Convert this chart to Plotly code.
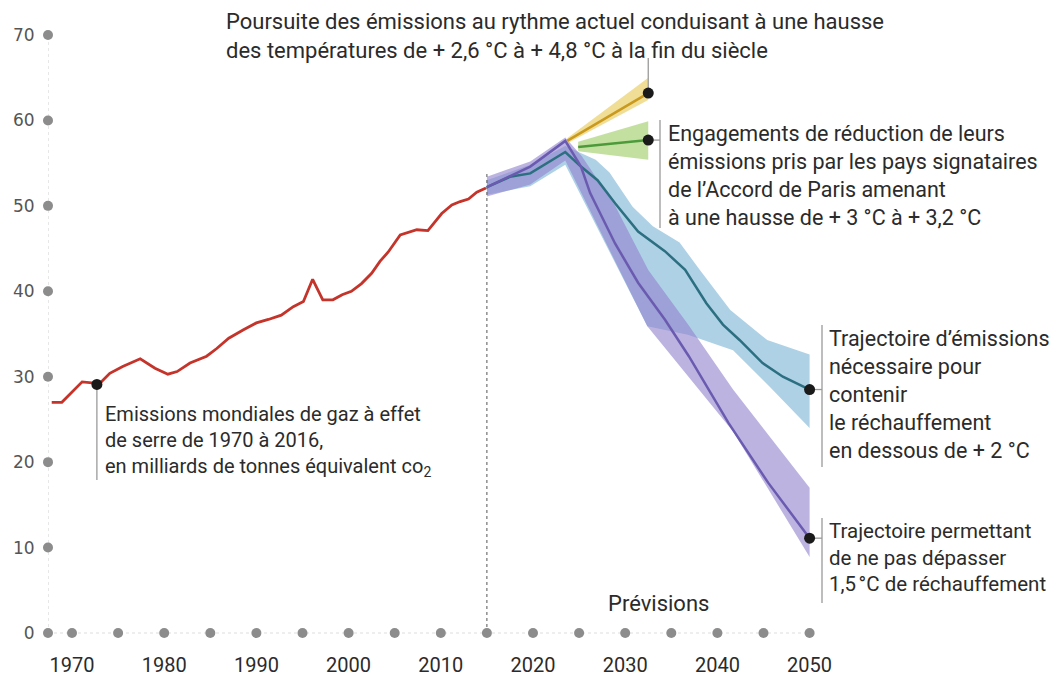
import plotly.graph_objects as go

# --- données ---
# historique (années telles que placées sur l'axe du graphique)
hist_years = [1967.8, 1968.9, 1971.1, 1972.1, 1973.0, 1974.1, 1975.5, 1977.4, 1979.0, 1980.4,
              1981.4, 1982.8, 1984.6, 1985.7, 1987.0, 1988.6, 1990.0, 1991.3, 1992.7, 1994.0,
              1995.1, 1996.1, 1997.2, 1998.3, 1999.3, 2000.3, 2001.4, 2002.5, 2003.4, 2004.3,
              2005.6, 2007.4, 2008.6, 2010.1, 2011.2, 2012.1, 2013.0, 2013.9, 2014.9]
hist_vals = [27.0, 27.0, 29.4, 29.3, 29.2, 30.4, 31.2, 32.1, 31.0, 30.3,
             30.6, 31.6, 32.4, 33.3, 34.5, 35.5, 36.3, 36.7, 37.2, 38.2,
             38.8, 41.4, 39.0, 39.0, 39.6, 40.0, 40.9, 42.1, 43.5, 44.6,
             46.6, 47.2, 47.1, 49.1, 50.1, 50.5, 50.8, 51.6, 52.1]
hist_dot = (1972.7, 29.1)

# trajectoire 2 °C
c2_years = [2015, 2017.5, 2019.7, 2023.5, 2025.2, 2027.0, 2028.9, 2031.4, 2034.3, 2036.5,
            2038.8, 2040.6, 2042.4, 2044.9, 2047.1, 2050]
c2_vals = [52.2, 53.4, 53.8, 56.3, 54.6, 53.0, 50.3, 47.0, 44.7, 42.5,
           38.6, 36.1, 34.3, 31.6, 30.0, 28.5]
c2_up_years = [2015, 2019.7, 2023.5, 2026.8, 2028.3, 2030.8, 2033.0, 2035.9, 2038.1, 2041.4, 2045.4, 2050]
c2_up_vals = [53.0, 54.8, 57.0, 55.4, 53.9, 49.9, 47.6, 45.7, 42.5, 37.8, 34.3, 32.6]
c2_lo_years = [2015, 2019.7, 2023.5, 2032.4, 2036.8, 2041.7, 2045.7, 2050]
c2_lo_vals = [51.3, 52.3, 54.8, 35.9, 34.9, 33.1, 28.8, 24.0]

# trajectoire 1,5 °C
c15_years = [2015, 2019.7, 2023.5, 2025.2, 2026.2, 2028.9, 2031.4, 2034.3, 2036.9, 2041.2, 2045.5, 2050]
c15_vals = [52.2, 54.6, 57.6, 54.6, 51.5, 45.6, 41.0, 36.7, 32.4, 24.6, 17.6, 11.1]
c15_up_years = [2015, 2019.7, 2023.5, 2025.3, 2028.9, 2032.5, 2036.9, 2041.7, 2050]
c15_up_vals = [53.4, 55.2, 58.0, 55.8, 50.0, 42.5, 36.0, 28.5, 17.0]
c15_lo_years = [2015, 2019.7, 2023.5, 2032.4, 2041.7, 2050]
c15_lo_vals = [51.1, 52.5, 55.3, 35.9, 23.6, 8.9]

# rythme actuel
cur_years = [2023.7, 2032.5]
cur_vals = [57.6, 63.2]
cur_up = [57.9, 65.0]
cur_lo = [57.3, 62.4]

# engagements de Paris
ndc_years = [2024.9, 2032.5]
ndc_vals = [56.9, 57.7]
ndc_up = [57.5, 59.9]
ndc_lo = [56.4, 55.4]

y_ticks = [0, 10, 20, 30, 40, 50, 60, 70]
x_dot_years = list(range(1970, 2051, 5))
x_label_years = list(range(1970, 2051, 10))

FONT = "Roboto, sans-serif"

# échelle en pixels de la page (la page a une marge de 8 px)
W, H = 1063, 675
OFF = 8
PX_YEAR = 9.22
PX_UNIT = 8.543
PL, PR, PT, PB = 48, 1063, 8, 645


def px_x(x):
    return 1970 + (x - 72) / PX_YEAR


def px_y(y):
    return (633 - y) / PX_UNIT


fig = go.Figure()


def band(xu, yu, xl, yl, color):
    fig.add_trace(go.Scatter(
        x=list(xu) + list(xl[::-1]),
        y=list(yu) + list(yl[::-1]),
        fill="toself", fillcolor=color, mode="lines",
        line=dict(width=0), hoverinfo="skip", showlegend=False,
    ))


band(c2_up_years, c2_up_vals, c2_lo_years, c2_lo_vals, "rgba(140,190,220,0.7)")
band(c15_up_years, c15_up_vals, c15_lo_years, c15_lo_vals, "rgba(145,128,205,0.6)")
band(cur_years, cur_up, cur_years, cur_lo, "rgba(232,200,80,0.6)")
band(ndc_years, ndc_up, ndc_years, ndc_lo, "rgba(165,208,110,0.65)")

# ligne pointillée 2015
fig.add_trace(go.Scatter(x=[2015, 2015], y=[0, 54], mode="lines",
                         line=dict(color="#555", width=1, dash="dot"),
                         hoverinfo="skip", showlegend=False))

for xs, ys, col, w in [
    (c2_years, c2_vals, "#2b6f80", 2.5),
    (c15_years, c15_vals, "#6b5bb0", 2.5),
    (cur_years, cur_vals, "#c99a1e", 2.5),
    (ndc_years, ndc_vals, "#4c9a3a", 2.5),
    (hist_years, hist_vals, "#c4342a", 2.8),
]:
    fig.add_trace(go.Scatter(x=xs, y=ys, mode="lines", line=dict(color=col, width=w),
                             hoverinfo="skip", showlegend=False))

# axes en pointillés + points de graduation
x0 = px_x(PL)
fig.add_trace(go.Scatter(x=[x0, x0], y=[0, 70], mode="lines",
                         line=dict(color="#cfcfcf", width=1, dash="dot"),
                         hoverinfo="skip", showlegend=False))
fig.add_trace(go.Scatter(x=[x0, 2050], y=[0, 0], mode="lines",
                         line=dict(color="#dddddd", width=1, dash="dot"),
                         hoverinfo="skip", showlegend=False))
fig.add_trace(go.Scatter(x=[x0] * len(y_ticks), y=y_ticks, mode="markers",
                         marker=dict(color="#8c8c8c", size=10), cliponaxis=False,
                         hoverinfo="skip", showlegend=False))
fig.add_trace(go.Scatter(x=x_dot_years, y=[0] * len(x_dot_years), mode="markers",
                         marker=dict(color="#8c8c8c", size=10), cliponaxis=False,
                         hoverinfo="skip", showlegend=False))

# traits de rappel des annotations
LC = "#9a9a9a"
leaders = [
    ([hist_dot[0], hist_dot[0]], [hist_dot[1], px_y(480)]),
    ([cur_years[-1], cur_years[-1]], [cur_vals[-1], px_y(58)]),
    ([ndc_years[-1], px_x(660)], [ndc_vals[-1], ndc_vals[-1]]),
    ([px_x(660), px_x(660)], [px_y(120), px_y(228)]),
    ([c2_years[-1], px_x(822)], [c2_vals[-1], c2_vals[-1]]),
    ([px_x(822), px_x(822)], [px_y(325), px_y(467)]),
    ([c15_years[-1], px_x(822)], [c15_vals[-1], c15_vals[-1]]),
    ([px_x(822), px_x(822)], [px_y(518), px_y(603)]),
]
for xs, ys in leaders:
    fig.add_trace(go.Scatter(x=xs, y=ys, mode="lines", line=dict(color=LC, width=1.3),
                             hoverinfo="skip", showlegend=False, cliponaxis=False))

# points noirs
fig.add_trace(go.Scatter(
    x=[hist_dot[0], cur_years[-1], ndc_years[-1], c2_years[-1], c15_years[-1]],
    y=[hist_dot[1], cur_vals[-1], ndc_vals[-1], c2_vals[-1], c15_vals[-1]],
    mode="markers", marker=dict(color="#1a1a1a", size=11),
    hoverinfo="skip", showlegend=False, cliponaxis=False))

TXT = "#2b2b2b"


def note(xp, yp, text, size=22, anchor="left"):
    # position en pixels de page -> coordonnées "paper"
    fig.add_annotation(x=(xp - PL) / (PR - PL), y=(PB - yp) / (PB - PT),
                       xref="paper", yref="paper", text=text, showarrow=False,
                       xanchor=anchor, yanchor="top", align=anchor,
                       font=dict(family=FONT, size=size, color=TXT))


note(103, 400, "Emissions mondiales de gaz à effet<br>de serre de 1970 à 2016,<br>"
     "en milliards de tonnes équivalent co<sub>2</sub>", size=20)
note(224, 7, "Poursuite des émissions au rythme actuel conduisant à une hausse<br>"
     "des températures de + 2,6 °C à + 4,8 °C à la fin du siècle")
note(666, 119, "Engagements de réduction de leurs<br>émissions pris par les pays signataires<br>"
     "de l’Accord de Paris amenant<br>à une hausse de + 3 °C à + 3,2 °C", size=21.5)
note(827, 324, "Trajectoire d’émissions<br>nécessaire pour<br>contenir<br>le réchauffement<br>"
     "en dessous de + 2 °C", size=21.5)
note(827, 517, "Trajectoire permettant<br>de ne pas dépasser<br>1,5\u202f°C de réchauffement", size=20.5)
note(658, 589, "Prévisions", anchor="center")

fig.update_layout(
    width=W, height=H,
    margin=dict(l=PL - OFF, r=W + OFF - PR, t=PT - OFF, b=H + OFF - PB),
    plot_bgcolor="white", paper_bgcolor="white",
    showlegend=False,
    xaxis=dict(range=[px_x(PL), px_x(PR)], showgrid=False, zeroline=False, showline=False,
               tickvals=x_label_years, ticktext=[str(v) for v in x_label_years],
               ticks="outside", ticklen=2, tickcolor="rgba(0,0,0,0)",
               tickfont=dict(family=FONT, size=20, color="#2b2b2b")),
    yaxis=dict(range=[px_y(PB), px_y(PT)], showgrid=False, zeroline=False, showline=False,
               tickvals=y_ticks, ticks="outside", ticklen=9, tickcolor="rgba(0,0,0,0)",
               tickfont=dict(family="DejaVu Sans, sans-serif", size=17, color="#555")),
)

fig.write_html("out.html")
